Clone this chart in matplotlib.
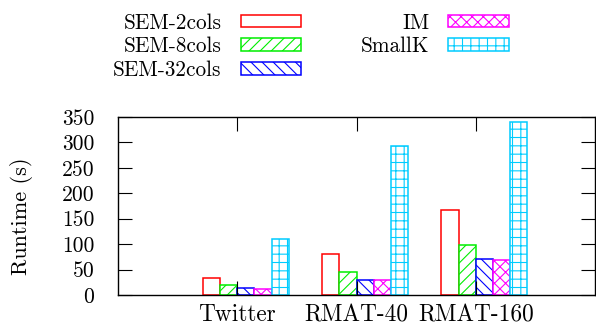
import matplotlib
matplotlib.use("Agg")
import matplotlib.pyplot as plt
import numpy as np

categories = ["Twitter", "RMAT-40", "RMAT-160"]
series = ["SEM-2cols", "SEM-8cols", "SEM-32cols", "IM", "SmallK"]
values = {
    "SEM-2cols": [33, 81, 168],
    "SEM-8cols": [19, 46, 98],
    "SEM-32cols": [13, 30, 70],
    "IM": [11, 29, 68],
    "SmallK": [110, 292, 340],
}
colors = ["#ff0000", "#00ee00", "#0000ff", "#ff00ff", "#00ccff"]
hatches = ["", "///", "\\\\\\", "xxx", "++"]
yticks = [0, 50, 100, 150, 200, 250, 300, 350]

plt.rcParams["font.family"] = "serif"
plt.rcParams["font.serif"] = ["cmr10", "DejaVu Serif"]
plt.rcParams["axes.formatter.use_mathtext"] = True
plt.rcParams["hatch.linewidth"] = 0.8

fig = plt.figure(figsize=(5.96, 3.27), dpi=100)
ax = fig.add_axes([118 / 596, 1 - 295 / 327, 477 / 596, 178 / 327])

x = np.arange(1, len(categories) + 1)
w = 0.144
handles = []
for i, s in enumerate(series):
    b = ax.bar(x + (i - 2) * w + w / 2, values[s], width=w, color="white",
               edgecolor=colors[i], hatch=hatches[i], linewidth=1.1, label=s)
    handles.append(b)

ax.set_xlim(0, 4)
ax.set_ylim(0, 350)
ax.set_xticks(x)
ax.set_xticklabels(categories, fontsize=16.8)
ax.set_yticks(yticks)
ax.set_yticklabels([str(v) for v in yticks], fontsize=15.5)
ax.tick_params(axis="both", direction="in", length=10, width=0.8,
               top=True, right=True, bottom=True, left=True)
ax.tick_params(axis="x", pad=6.5)
ax.tick_params(axis="y", pad=17)
ax.set_ylabel("Runtime (s)", fontsize=16)
ax.yaxis.set_label_coords(-0.178, 0.444)
for sp in ax.spines.values():
    sp.set_linewidth(1.0)

leg = fig.legend(handles=handles, labels=series, ncol=2, loc="upper right",
                 bbox_to_anchor=(509 / 596, 1 - 13 / 327), frameon=False,
                 markerfirst=False, fontsize=15.3, handlelength=2.85,
                 handleheight=0.55, labelspacing=0.2, columnspacing=2.8,
                 handletextpad=0.9, borderpad=0, borderaxespad=0)

fig.savefig("out.png", dpi=100)
